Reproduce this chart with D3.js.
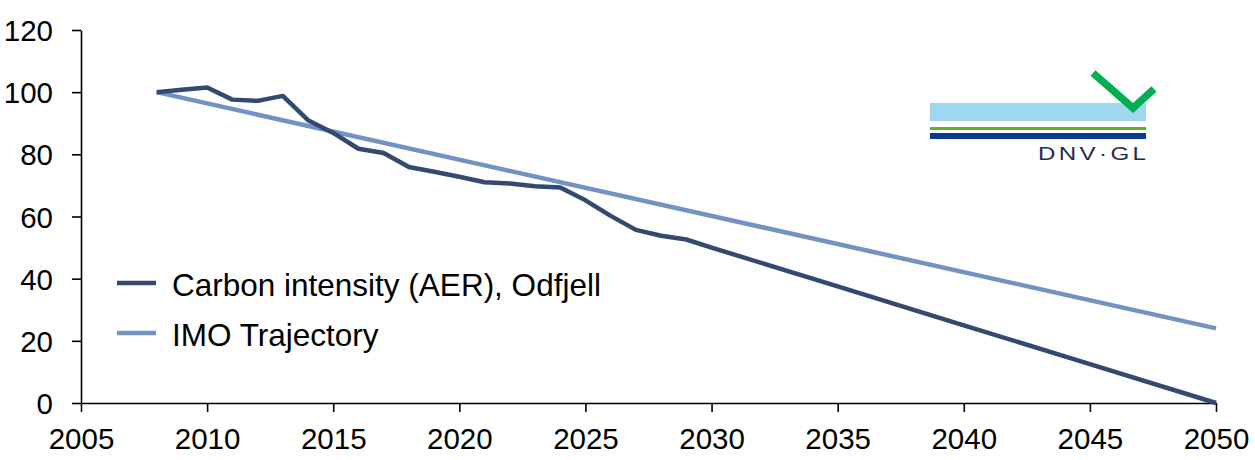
<!DOCTYPE html>
<html>
<head>
<meta charset="utf-8">
<script src="https://cdn.jsdelivr.net/npm/d3@7/dist/d3.min.js"></script>
<style>
  html, body { margin: 0; padding: 0; background: #ffffff; }
  svg { display: block; font-family: Arial, "Liberation Sans", sans-serif; }
</style>
</head>
<body>
<svg id="chart" width="1255" height="460"></svg>
<script>
// Carbon intensity index (2008 = 100)
const odfjellYears  = [2008, 2009, 2010, 2011, 2012, 2013, 2014, 2015, 2016, 2017, 2018, 2019,
                       2020, 2021, 2022, 2023, 2024, 2025, 2026, 2027, 2028, 2029, 2030,
                       2035, 2040, 2045, 2050];
const odfjellValues = [100, 100.8, 101.5, 97.6, 97.2, 98.8, 91.0, 86.9, 81.8, 80.4, 75.9, 74.4,
                       72.8, 71.0, 70.6, 69.7, 69.3, 65.2, 60.2, 55.7, 53.8, 52.6, 50.0,
                       37.5, 25.0, 12.5, 0];
const imoYears  = [2008, 2050];
const imoValues = [100, 24];

const seriesNames = ["Carbon intensity (AER), Odfjell", "IMO Trajectory"];
const xTicks = [2005, 2010, 2015, 2020, 2025, 2030, 2035, 2040, 2045, 2050];
const yTicks = [0, 20, 40, 60, 80, 100, 120];

const colors = { odfjell: "#34496f", imo: "#7193c4" };

const svg = d3.select("#chart");
const x = d3.scaleLinear().domain([2005, 2050]).range([81, 1216]);
const y = d3.scaleLinear().domain([0, 120]).range([403, 30]);

// Axes
const yAxis = svg.append("g")
  .attr("transform", `translate(${x(2005)},0)`)
  .call(d3.axisLeft(y).tickValues(yTicks).tickSize(9).tickPadding(19).tickSizeOuter(0));
const xAxis = svg.append("g")
  .attr("transform", `translate(0,${y(0)})`)
  .call(d3.axisBottom(x).tickValues(xTicks).tickFormat(d3.format("d")).tickSize(9).tickPadding(16).tickSizeOuter(0));

[yAxis, xAxis].forEach(g => {
  g.select(".domain").attr("stroke", "#000").attr("stroke-width", 1.6);
  g.selectAll(".tick line").attr("stroke", "#000").attr("stroke-width", 1.6);
  g.selectAll(".tick text")
    .attr("fill", "#000")
    .style("font-size", "29.5px")
    .style("font-family", "Arial, 'Liberation Sans', sans-serif");
});
yAxis.selectAll(".tick text").attr("dy", "0.36em");
xAxis.selectAll(".tick text").attr("dy", "0.72em");

const line = d3.line().x(d => x(d[0])).y(d => y(d[1]));

// IMO trajectory
svg.append("path")
  .datum(d3.zip(imoYears, imoValues))
  .attr("fill", "none")
  .attr("stroke", colors.imo)
  .attr("stroke-width", 4.5)
  .attr("stroke-linejoin", "round")
  .attr("d", line);

// Odfjell carbon intensity
svg.append("path")
  .datum(d3.zip(odfjellYears, odfjellValues))
  .attr("fill", "none")
  .attr("stroke", colors.odfjell)
  .attr("stroke-width", 4.5)
  .attr("stroke-linejoin", "round")
  .attr("d", line);

// Legend
const legend = svg.append("g");
const legendItems = [
  { name: seriesNames[0], color: colors.odfjell, y: 283 },
  { name: seriesNames[1], color: colors.imo, y: 333 }
];
legendItems.forEach(item => {
  legend.append("line")
    .attr("x1", 117).attr("x2", 156)
    .attr("y1", item.y).attr("y2", item.y)
    .attr("stroke", item.color).attr("stroke-width", 4.5);
  legend.append("text")
    .attr("x", 172).attr("y", item.y + 12.5)
    .attr("fill", "#000")
    .style("font-size", "31.5px")
    .text(item.name);
});

// DNV GL logo
const logo = svg.append("g");
logo.append("rect").attr("x", 930).attr("y", 103).attr("width", 216).attr("height", 18).attr("fill", "#9fd7f0");
logo.append("rect").attr("x", 930).attr("y", 127).attr("width", 216).attr("height", 3).attr("fill", "#5cb038");
logo.append("rect").attr("x", 930).attr("y", 133).attr("width", 216).attr("height", 6).attr("fill", "#0d3a91");
logo.append("polyline")
  .attr("points", "1093,73 1133,108 1154,89")
  .attr("fill", "none")
  .attr("stroke", "#00b050")
  .attr("stroke-width", 7.5);
// Wordmark: stretched horizontally to span from x=1038 to the bar's right edge
const word = logo.append("text")
  .attr("x", 0).attr("y", 0)
  .attr("fill", "#1e2a50")
  .style("font-size", "18px")
  .style("letter-spacing", "2.5px")
  .text("DNV·GL");
const wordW = word.node().getComputedTextLength() - 2.5;
const sx = 108 / wordW;
word.attr("transform", `translate(1038,160) scale(${sx},1)`);
</script>
</body>
</html>
